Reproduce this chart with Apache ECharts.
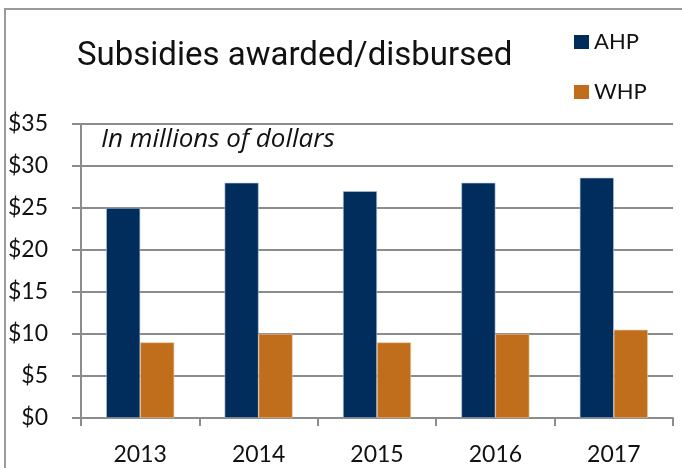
<!DOCTYPE html>
<html>
<head>
<meta charset="utf-8">
<script src="https://cdn.jsdelivr.net/npm/echarts@6/dist/echarts.min.js"></script>
<style>
html,body{margin:0;padding:0;background:#fff;}
#c{width:682px;height:468px;}
</style>
</head>
<body>
<div id="c"></div>
<script>
var categories = ['2013', '2014', '2015', '2016', '2017'];
var ahp = [25, 28, 27, 28, 28.6];
var whp = [9, 10, 9, 10, 10.5];
var yTicks = [0, 5, 10, 15, 20, 25, 30, 35];

var chart = echarts.init(document.getElementById('c'));
var baseFont = 'Lato, "Open Sans", sans-serif';
var legendCommon = {
  orient: 'vertical', left: 574, itemWidth: 15, itemHeight: 14, itemGap: 4, padding: 0,
  icon: 'rect', itemStyle: { borderWidth: 0 },
  textStyle: { fontFamily: baseFont, fontSize: 22, color: '#111' }
};
chart.setOption({
  animation: false,
  backgroundColor: '#fff',
  title: {
    text: 'Subsidies awarded/disbursed',
    left: 72, top: 35,
    textStyle: { fontFamily: 'Roboto, sans-serif', fontWeight: 'normal', fontSize: 33, color: '#111' }
  },
  legend: [
    Object.assign({}, legendCommon, { data: ['AHP'], top: 31 }),
    Object.assign({}, legendCommon, { data: ['WHP'], top: 81 })
  ],
  graphic: [
    { type: 'rect', shape: { x: 5, y: 9, width: 700, height: 500 }, style: { fill: 'none', stroke: '#9a9a9a', lineWidth: 2 }, silent: true },
    { type: 'text', left: 101, top: 127, style: { text: 'In millions of dollars', font: 'italic 26px "Open Sans", sans-serif', fill: '#111' } }
  ],
  grid: { left: 81, right: 9, top: 124, bottom: 50 },
  xAxis: {
    type: 'category',
    data: categories,
    axisLine: { lineStyle: { color: '#8c8c8c', width: 2 } },
    axisTick: { show: true, length: 8, lineStyle: { color: '#8c8c8c', width: 2 } },
    axisLabel: { fontFamily: baseFont, fontSize: 23, color: '#111', margin: 25 }
  },
  yAxis: {
    type: 'value', min: 0, max: 35, interval: 5,
    axisLine: { show: true, lineStyle: { color: '#8c8c8c', width: 2 } },
    axisTick: { show: true, length: 9, lineStyle: { color: '#8c8c8c', width: 2 } },
    splitLine: { lineStyle: { color: '#8c8c8c', width: 2 } },
    axisLabel: {
      fontFamily: baseFont, fontSize: 23, color: '#111', margin: 33,
      formatter: function (v) { return yTicks.indexOf(v) >= 0 ? '$' + v : ''; }
    }
  },
  series: [
    { name: 'AHP', type: 'bar', data: ahp, barWidth: 34, barGap: '0%',
      itemStyle: { color: '#002d5b', borderColor: '#b9c6d6', borderWidth: 0.6 } },
    { name: 'WHP', type: 'bar', data: whp, barWidth: 34,
      itemStyle: { color: '#c06d1c', borderColor: '#e9c7a4', borderWidth: 0.6 } }
  ]
});
</script>
</body>
</html>
